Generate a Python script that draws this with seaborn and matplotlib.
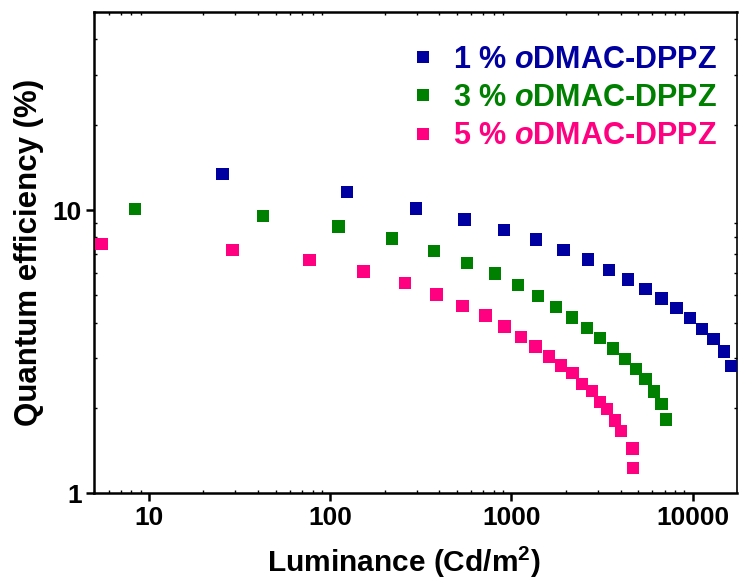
import matplotlib
matplotlib.use("Agg")
import matplotlib.pyplot as plt
from matplotlib.ticker import LogLocator, NullFormatter, FixedLocator, FixedFormatter
from matplotlib.lines import Line2D
import numpy as np
import pandas as pd
import seaborn as sns

# Luminance (cd/m^2) and external quantum efficiency (%) for each doping level
lum_1 = [25.5, 124, 297, 551, 908, 1365, 1941, 2640, 3445, 4405, 5485, 6715,
         8125, 9665, 11300, 13040, 14930, 16370]
eqe_1 = [13.4, 11.6, 10.14, 9.27, 8.52, 7.88, 7.24, 6.68, 6.15, 5.69, 5.25, 4.87,
         4.50, 4.15, 3.81, 3.50, 3.17, 2.81]

lum_3 = [8.38, 42.6, 111, 220, 373, 570, 813, 1087, 1405, 1765, 2167, 2612,
         3093, 3646, 4236, 4877, 5485, 6105, 6715, 7130]
eqe_3 = [10.06, 9.52, 8.74, 7.94, 7.17, 6.51, 5.96, 5.43, 4.96, 4.54, 4.17, 3.84,
         3.53, 3.24, 2.98, 2.75, 2.53, 2.29, 2.07, 1.82]

lum_5 = [5.49, 28.9, 77.1, 153, 258, 386, 538, 719, 915, 1131, 1361, 1615, 1875,
         2168, 2453, 2777, 3073, 3381, 3736, 4032, 4667, 4696]
eqe_5 = [7.60, 7.22, 6.65, 6.07, 5.52, 5.03, 4.59, 4.24, 3.88, 3.56, 3.30, 3.04,
         2.83, 2.66, 2.43, 2.30, 2.10, 1.98, 1.81, 1.66, 1.44, 1.23]

series_names = ["1 %", "3 %", "5 %"]
series_colors = ["#0000A0", "#008000", "#FF0080"]
x_ticks = [10, 100, 1000, 10000]
x_tick_labels = ["10", "100", "1000", "10000"]
y_ticks = [1, 10]
y_tick_labels = ["1", "10"]

frames = []
for name, lx, ly in zip(series_names, [lum_1, lum_3, lum_5], [eqe_1, eqe_3, eqe_5]):
    frames.append(pd.DataFrame({"lum": lx, "eqe": ly, "series": name}))
df = pd.concat(frames, ignore_index=True)

sns.set_style("white")
base_font = "Liberation Sans"
plt.rcParams["font.family"] = [base_font, "DejaVu Sans"]
plt.rcParams["font.weight"] = "bold"
plt.rcParams["text.color"] = "black"
plt.rcParams["axes.labelcolor"] = "black"
plt.rcParams["xtick.color"] = "black"
plt.rcParams["ytick.color"] = "black"
plt.rcParams["mathtext.fontset"] = "custom"
plt.rcParams["mathtext.it"] = f"{base_font}:bold:italic"
plt.rcParams["mathtext.rm"] = f"{base_font}:bold"
plt.rcParams["mathtext.bf"] = f"{base_font}:bold"

fig = plt.figure(figsize=(7.39, 5.79), dpi=100)
ax = fig.add_axes([0.1276, 0.148, 0.8693, 0.8313])

palette = dict(zip(series_names, series_colors))
sns.scatterplot(data=df, x="lum", y="eqe", hue="series", palette=palette,
                marker="s", s=80, linewidth=0, ax=ax, legend=False, zorder=3,
                clip_on=True)

ax.set_xscale("log")
ax.set_yscale("log")
ax.set_xlim(5, 17500)
ax.set_ylim(1, 50)

for name, sp in ax.spines.items():
    sp.set_linewidth(1.2 if name == "right" else 1.8)
    sp.set_color("black")

ax.xaxis.set_major_locator(FixedLocator(x_ticks))
ax.xaxis.set_major_formatter(FixedFormatter(x_tick_labels))
ax.yaxis.set_major_locator(FixedLocator(y_ticks))
ax.yaxis.set_major_formatter(FixedFormatter(y_tick_labels))
ax.xaxis.set_minor_locator(LogLocator(base=10, subs=np.arange(2, 10), numticks=20))
ax.yaxis.set_minor_locator(LogLocator(base=10, subs=np.arange(2, 10), numticks=20))
ax.xaxis.set_minor_formatter(NullFormatter())
ax.yaxis.set_minor_formatter(NullFormatter())

ax.tick_params(which="major", direction="out", length=6, width=1.8,
               labelsize=19, pad=3, bottom=True, left=True, top=False, right=False,
               colors="black")
ax.tick_params(which="minor", direction="in", length=2.5, width=1.0,
               bottom=True, left=True, top=True, right=True, colors="black")
for lab in ax.get_xticklabels() + ax.get_yticklabels():
    lab.set_fontweight("bold")

ax.set_xlabel("Luminance (Cd/m$^2$)", fontsize=21.5, fontweight="bold", labelpad=11)
ax.xaxis.label.set_x(0.482)
ax.set_ylabel("Quantum efficiency (%)", fontsize=22.5, fontweight="bold", labelpad=6)

handles = [Line2D([], [], linestyle="none", marker="s", markersize=8.5,
                  markerfacecolor=c, markeredgewidth=0) for c in series_colors]
labels = [f"{n} $\\mathit{{o}}$DMAC-DPPZ" for n in series_names]
leg = ax.legend(handles, labels, loc="upper right", bbox_to_anchor=(0.998, 0.97),
                frameon=False, fontsize=22, handlelength=0.8, handletextpad=0.6,
                labelspacing=0.27, borderaxespad=0.2)
for txt, c in zip(leg.get_texts(), series_colors):
    txt.set_color(c)
    txt.set_fontweight("bold")

fig.savefig("out.png", dpi=100)
